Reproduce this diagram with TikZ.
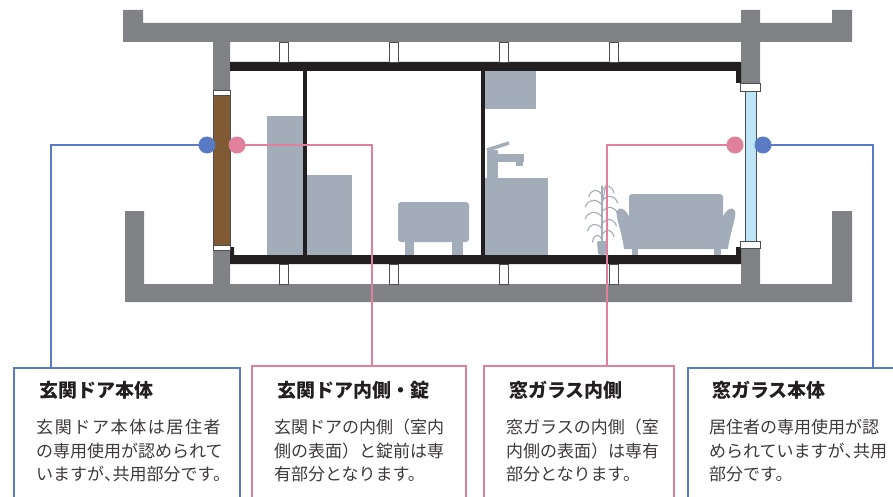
\documentclass[tikz,border=0pt]{standalone}
\usepackage{fontspec}
\setmainfont{Noto Sans CJK JP}
\usetikzlibrary{positioning}

\definecolor{slabgray}{HTML}{808285}
\definecolor{finishblack}{HTML}{231F20}
\definecolor{furngray}{HTML}{A3ACB9}
\definecolor{doorbrown}{HTML}{7F5A33}
\definecolor{glassblue}{HTML}{BDE5F6}
\definecolor{markblue}{HTML}{5A7BC3}
\definecolor{markpink}{HTML}{E0809C}
\definecolor{textgray}{HTML}{3E3A39}

\newcommand\halfcomma{\makebox[0.5em][l]{、}}
\newcommand\wideline[1]{{\addfontfeature{LetterSpace=9.5}#1}}

\tikzset{
  section slab/.style={fill=slabgray},
  section finish/.style={fill=finishblack},
  furniture/.style={fill=furngray},
  furniture line/.style={draw=furngray,line width=1.1pt,line cap=round},
  spacer/.style={fill=white,draw=slabgray!60!black,line width=0.7pt},
  blue mark/.style={circle,fill=markblue,inner sep=0pt,minimum size=17pt},
  pink mark/.style={circle,fill=markpink,inner sep=0pt,minimum size=17pt},
  blue lead/.style={draw=markblue,line width=1.8pt},
  pink lead/.style={draw=markpink,line width=1.8pt},
  note box/.style={draw,line width=1.8pt,anchor=north west,inner sep=0pt,
    minimum height=150pt},
  note title/.style={anchor=north west,inner sep=0pt,text=finishblack,
    font=\bfseries\fontsize{19}{19}\selectfont},
  note body/.style={anchor=north west,inner sep=0pt,align=left,text=textgray,
    font=\fontsize{17}{23.5}\selectfont}
}

\begin{document}
\begin{tikzpicture}[x=1pt,y=-1pt]
  \useasboundingbox (0,0) rectangle (893,497);
  \fill[white] (0,0) rectangle (893,497);

  % slabs and columns
  \fill[section slab] (123,10) -- (143,10) -- (143,23) -- (741,23) -- (741,10)
    -- (760,10) -- (760,23) -- (832,23) -- (832,10) -- (852,10) -- (852,42)
    -- (760,42) -- (760,83) -- (741,83) -- (741,42) -- (230,42) -- (230,90)
    -- (213,90) -- (213,42) -- (123,42) -- cycle;
  \fill[section slab] (125,211) -- (144,211) -- (144,284) -- (213,284)
    -- (213,250) -- (230,250) -- (230,284) -- (741,284) -- (741,248)
    -- (760,248) -- (760,284) -- (832,284) -- (832,211) -- (852,211)
    -- (852,302) -- (125,302) -- cycle;

  % ceiling, floor and partitions
  \fill[section finish] (230,62) -- (741,62) -- (741,83) -- (736,83)
    -- (736,71) -- (230,71) -- cycle;
  \fill[section finish] (230,247) -- (234,247) -- (234,255) -- (736,255)
    -- (736,247) -- (741,247) -- (741,264) -- (230,264) -- cycle;
  \fill[section finish] (303,71) rectangle (307,255);
  \fill[section finish] (481,71) rectangle (485,255);

  \foreach \x in {279,389,499,609} {
    \draw[spacer] (\x,42) rectangle ++(9,20);
    \draw[spacer] (\x,264) rectangle ++(9,20);
  }

  % entrance door
  \draw[fill=doorbrown,draw=slabgray!60!black,line width=0.5pt] (213,95) rectangle (230,245);
  \draw[spacer] (213,90) rectangle (230,95);
  \draw[spacer] (213,245) rectangle (230,250);

  % window glass
  \draw[fill=glassblue,draw=slabgray!60!black,line width=0.7pt] (745,91) rectangle (756,242);
  \draw[spacer] (740,83) rectangle (760,91);
  \draw[spacer] (740,241) rectangle (760,248);

  % shoe cabinet and counter
  \fill[furniture] (267,116) rectangle (303,255);
  \fill[furniture] (307,175) rectangle (352,255);
  % ottoman
  \fill[furniture,rounded corners=3pt] (398,202) rectangle (469,242);
  \fill[furniture] (405,240) rectangle (414,255);
  \fill[furniture] (452,240) rectangle (463,255);
  % washroom
  \fill[furniture] (485,71) rectangle (536,109);
  \fill[furniture] (485,178) rectangle (548,255);
  \fill[furniture] (487,150) rectangle (498,178);
  \fill[furniture] (487,154) rectangle (524,162);
  \fill[furniture] (516,162) rectangle (523,166);
  \draw[furniture line,line width=3.5pt,line cap=butt] (487,150) -- (509,143);
  % plant
  \fill[furniture,rounded corners=2pt] (597,241) -- (607,241) -- (606,255) -- (598,255) -- cycle;
  \draw[furniture line] (602,242) -- (602,186);
  \draw[furniture line] (602,205) .. controls (604,195) and (605,188) .. (607,182);
  \foreach \y/\d/\l in {186/1/10,190/-1/11,196/1/13,200/-1/14,207/1/13,212/-1/14,
                        219/1/12,224/-1/12,230/1/10,235/-1/8}
    \draw[furniture line] (602,\y+5) .. controls (602+0.4*\d*\l,\y-2) and (602+\d*\l,\y-1) .. (602+1.2*\d*\l,\y+7);
  % sofa
  \fill[furniture,rounded corners=3pt] (629,194) rectangle (723,249);
  \fill[furniture] (624,249) .. controls (622,232) and (615,216) .. (617,211)
    .. controls (619,206) and (625,208) .. (630,218) -- (630,249) -- cycle;
  \fill[furniture] (728,249) .. controls (730,232) and (737,216) .. (735,211)
    .. controls (733,206) and (727,208) .. (722,218) -- (722,249) -- cycle;
  \fill[furniture] (624,244) rectangle (728,249);
  \fill[furniture] (632,247) rectangle (638,255);
  \fill[furniture] (714,247) rectangle (721,255);

  % note boxes
  \node[note box,draw=markblue,minimum width=226pt] (doorBody) at (13,367) {};
  \node[note box,draw=markpink,minimum width=214pt] (doorInner) at (251,365) {};
  \node[note box,draw=markpink,minimum width=190pt] (glassInner) at (483,365) {};
  \node[note box,draw=markblue,minimum width=230pt] (glassBody) at (687,367) {};

  \node[note title,below right=14pt and 26pt of doorBody.north west] (doorBodyTitle) {玄関ドア本体};
  \node[note body,below right=52pt and 23pt of doorBody.north west] (doorBodyText)
    {\wideline{玄関ドア本体は居住者}\\の専用使用が認められて\\いますが\halfcomma 共用部分です。};
  \node[note title,below right=16pt and 26pt of doorInner.north west] (doorInnerTitle) {玄関ドア内側・錠};
  \node[note body,below right=54pt and 23pt of doorInner.north west] (doorInnerText)
    {玄関ドアの内側（室内\\側の表面）と錠前は専\\有部分となります。};
  \node[note title,below right=16pt and 26pt of glassInner.north west] (glassInnerTitle) {窓ガラス内側};
  \node[note body,below right=54pt and 23pt of glassInner.north west] (glassInnerText)
    {窓ガラスの内側（室\\内側の表面）は専有\\部分となります。};
  \node[note title,below right=14pt and 25pt of glassBody.north west] (glassBodyTitle) {窓ガラス本体};
  \node[note body,below right=52pt and 22pt of glassBody.north west] (glassBodyText)
    {居住者の専用使用が認\\められていますが\halfcomma 共用\\部分です。};

  % leads and markers
  \coordinate (doorOutPt) at (207,145);
  \coordinate (doorInPt) at (237,145);
  \coordinate (glassInPt) at (735,145);
  \coordinate (glassOutPt) at (763,145);
  \draw[blue lead] (doorOutPt) -| ([xshift=38pt]doorBody.north west);
  \draw[pink lead] (doorInPt) -| ([xshift=121pt]doorInner.north west);
  \draw[pink lead] (glassInPt) -| ([xshift=124pt]glassInner.north west);
  \draw[blue lead] (glassOutPt) -| ([xshift=186pt]glassBody.north west);
  \node[blue mark] (doorOut) at (doorOutPt) {};
  \node[pink mark] (doorIn) at (doorInPt) {};
  \node[pink mark] (glassIn) at (glassInPt) {};
  \node[blue mark] (glassOut) at (glassOutPt) {};
\end{tikzpicture}
\end{document}
